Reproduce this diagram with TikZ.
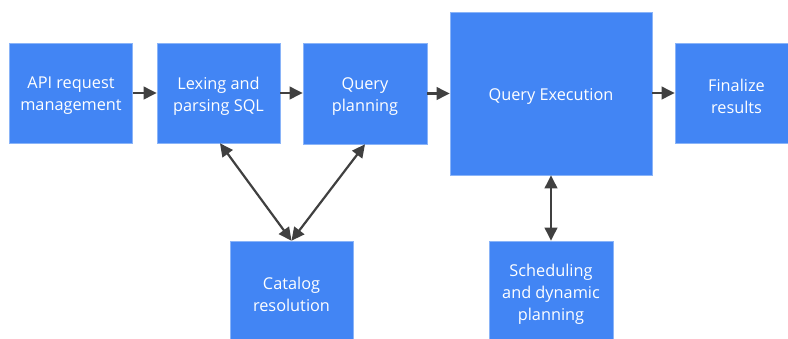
\documentclass[tikz,border=0pt]{standalone}
\usepackage{fontspec}
\setmainfont{Open Sans}
\usetikzlibrary{arrows.meta}
\definecolor{gblue}{HTML}{4285F4}
\definecolor{gedge}{HTML}{8AB4F8}
\definecolor{arr}{HTML}{404040}
\begin{document}
\begin{tikzpicture}[x=1pt,y=-1pt,
  blk/.style={draw=gedge,line width=0.6pt,fill=gblue,inner sep=0pt},
  lbl/.style={text=white,align=center,font=\fontsize{16.3}{22}\selectfont,inner sep=0pt,yshift=-3pt},
  conn/.style={draw=arr,line width=2.2pt,-{Triangle[length=13pt,width=12.5pt]}},
  dconn/.style={draw=arr,line width=2.2pt,{Triangle[length=13pt,width=12.5pt]}-{Triangle[length=13pt,width=12.5pt]}}]
\useasboundingbox (0,0) rectangle (788,338);
\clip (0,0) rectangle (788,338);
\node[blk,minimum width=123pt,minimum height=100pt] (api) at (71,93) {};
\node[blk,minimum width=123pt,minimum height=100pt] (lex) at (218.5,93) {};
\node[blk,minimum width=124pt,minimum height=101pt] (qp) at (365,93.5) {};
\node[blk,minimum width=202pt,minimum height=163pt] (qe) at (551,93.5) {};
\node[blk,minimum width=123pt,minimum height=100pt] (fin) at (736.5,93) {};
\node[blk,minimum width=123pt,minimum height=100pt] (cat) at (291.5,291) {};
\node[blk,minimum width=124pt,minimum height=100pt] (sch) at (551,291) {};
\node[lbl] (apit) at (api.center) {API request\\management};
\node[lbl] (lext) at (lex.center) {Lexing and\\parsing SQL};
\node[lbl] (qpt) at (qp.center) {Query\\planning};
\node[lbl] (qet) at (qe.center) {Query Execution};
\node[lbl] (fint) at (fin.center) {Finalize\\results};
\node[lbl] (catt) at (cat.center) {Catalog\\resolution};
\node[lbl] (scht) at (sch.center) {Scheduling\\and dynamic\\planning};
\draw[conn] (api.east) -- (lex.east -| lex.west);
\draw[conn] (lex.east) -- (qp.west |- lex.east);
\draw[conn] (qp.east) -- (qe.west |- qp.east);
\draw[conn] (qe.east |- fin.west) -- (fin.west);
\coordinate (ct) at (cat.north);
\draw[dconn] (ct) -- (lex.south -| 220,0);
\draw[dconn] (ct) -- (qp.south -| 365,0);
\draw[dconn] (qe.south) -- (sch.north);
\end{tikzpicture}
\end{document}
